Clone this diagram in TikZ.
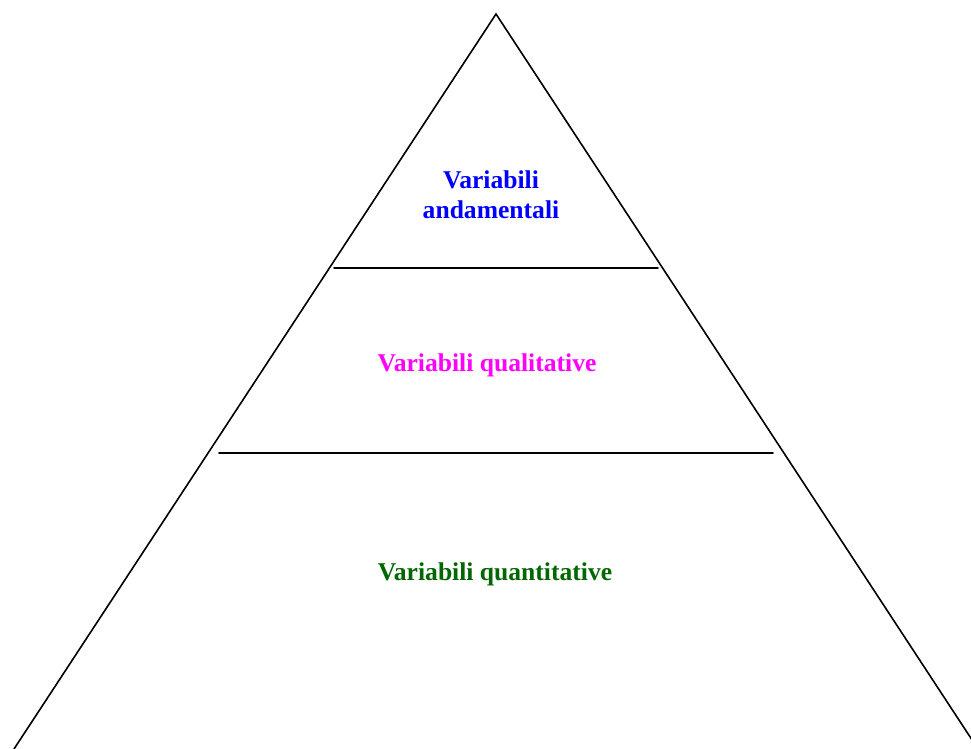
\documentclass[tikz,border=0pt]{standalone}
\usepackage{fontspec}
\setmainfont{Liberation Serif}
\definecolor{qgreen}{RGB}{0,102,0}
\definecolor{qmagenta}{RGB}{255,0,255}
\definecolor{qblue}{RGB}{0,0,255}
\tikzset{
  layertext/.style={font=\bfseries\fontsize{19.2}{22.5}\selectfont,align=center},
  edge/.style={line width=1.2pt,line cap=round}
}
\begin{document}
\begin{tikzpicture}[x=0.75pt,y=-0.75pt]
  \useasboundingbox (0,0) rectangle (971,749);
  \clip (0,0) rectangle (971,749);
  % outline
  \coordinate (apex) at (496,14);
  \coordinate (bl) at (14,749);
  \coordinate (br) at (978,749);
  \draw[edge] (bl)--(apex)--(br);
  % layer borders
  \coordinate (u1) at (334,268);
  \coordinate (u2) at (658,268);
  \coordinate (l1) at (219,453);
  \coordinate (l2) at (773,453);
  \draw[edge] (u1)--(u2);
  \draw[edge] (l1)--(l2);
  % labels
  \node[layertext,qblue] (top) at (491,195) {Variabili\\andamentali};
  \node[layertext,qmagenta] (mid) at (487,365) {Variabili qualitative};
  \node[layertext,qgreen] (low) at (495,574) {Variabili quantitative};
\end{tikzpicture}
\end{document}
